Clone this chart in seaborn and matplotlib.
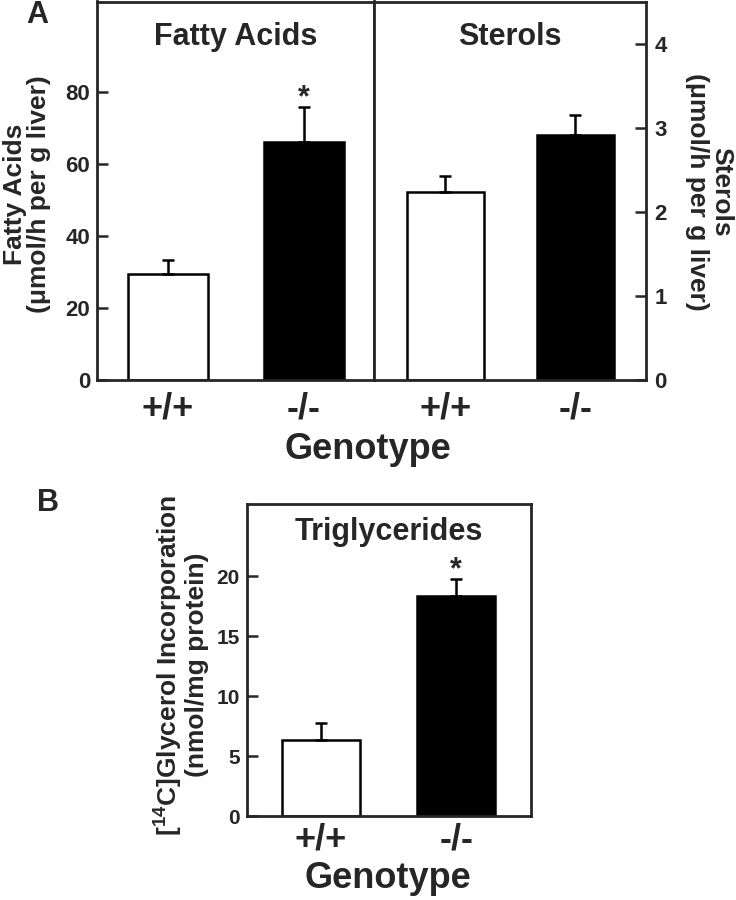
import matplotlib
matplotlib.use("Agg")
import matplotlib.pyplot as plt
import seaborn as sns

# Data
genotypes = ["+/+", "-/-"]
fatty_acids = [29.3, 66.0]
fatty_acids_err = [3.9, 9.7]
sterols = [2.24, 2.91]
sterols_err = [0.18, 0.24]
triglycerides = [6.35, 18.3]
triglycerides_err = [1.4, 1.45]
bar_colors = ["white", "black"]

sns.set_style("ticks")
plt.rcParams["font.family"] = ["Liberation Sans", "DejaVu Sans"]
plt.rcParams["font.weight"] = "bold"
plt.rcParams["mathtext.fontset"] = "custom"
plt.rcParams["mathtext.rm"] = "Liberation Sans:bold"
plt.rcParams["mathtext.bf"] = "Liberation Sans:bold"

fig = plt.figure(figsize=(7.36, 9), dpi=100)
W, H = 736, 900


def add_ax(x0, y0, x1, y1):
    # pixel box (top-left origin) -> figure axes
    return fig.add_axes([x0 / W, 1 - y1 / H, (x1 - x0) / W, (y1 - y0) / H])


def draw_bars(ax, vals, errs, width, pad=10):
    sns.barplot(x=genotypes, y=vals, hue=genotypes, palette=bar_colors,
                edgecolor="black", linewidth=1.8, width=width,
                errorbar=None, legend=False, ax=ax)
    ax.errorbar([0, 1], vals, yerr=[[0, 0], errs], fmt="none",
                ecolor="black", elinewidth=1.8, capsize=4, capthick=1.8,
                zorder=1)
    for s in ax.spines.values():
        s.set_linewidth(2)
        s.set_visible(True)
    ax.tick_params(axis="x", length=0, pad=pad, labelsize=26)
    for lab in ax.get_xticklabels():
        lab.set_fontweight("bold")
    ax.set_xlabel("")
    ax.set_ylabel("")


# ---------------- Panel A: fatty acids ----------------
ax1 = add_ax(97, 1.5, 374, 380)
draw_bars(ax1, fatty_acids, fatty_acids_err, 0.59, pad=8)
ax1.set_xlim(-0.522, 1.515)
ax1.set_ylim(0, 105)
ax1.set_yticks([0, 20, 40, 60, 80])
ax1.tick_params(axis="y", direction="in", length=8, width=1.8,
                labelsize=16, pad=5)
ax1.set_title("Fatty Acids", fontsize=22, fontweight="bold", y=0.862)
ax1.text(1, fatty_acids[1] + fatty_acids_err[1] + 0.3, "*", ha="center",
         va="baseline", fontsize=22, fontweight="bold")

# ---------------- Panel A: sterols ----------------
ax2 = add_ax(374, 1.5, 646, 380)
draw_bars(ax2, sterols, sterols_err, 0.596, pad=8)
ax2.set_xlim(-0.548, 1.544)
ax2.set_ylim(0, 4.5)
ax2.set_yticks([0, 1, 2, 3, 4])
ax2.yaxis.tick_right()
ax2.tick_params(axis="y", direction="in", length=8, width=1.8,
                labelsize=16, pad=6, left=False, right=True)
ax2.set_title("Sterols", fontsize=22, fontweight="bold", y=0.862)

fig.text(27 / W, 1 - 194 / H, "Fatty Acids\n(\u03bcmol/h per g liver)",
         rotation=90, ha="center", va="center", fontsize=19,
         fontweight="bold", linespacing=1.05)
fig.text(709 / W, 1 - 192 / H, "Sterols\n(\u03bcmol/h per g liver)",
         rotation=270, ha="center", va="center", fontsize=19,
         fontweight="bold", linespacing=1.05)
fig.text(368 / W, 1 - 449 / H, "Genotype", ha="center", va="center",
         fontsize=26, fontweight="bold")
fig.text(37 / W, 1 - 15 / H, "A", ha="center", va="center",
         fontsize=22, fontweight="bold")

# ---------------- Panel B: triglycerides ----------------
ax3 = add_ax(246.7, 504, 530.7, 816)
draw_bars(ax3, triglycerides, triglycerides_err, 0.575, pad=5)
ax3.set_xlim(-0.545, 1.55)
ax3.set_ylim(0, 26)
ax3.set_yticks([0, 5, 10, 15, 20])
ax3.tick_params(axis="y", direction="in", length=8, width=1.8,
                labelsize=15, pad=5)
ax3.set_title("Triglycerides", fontsize=22, fontweight="bold", y=0.857)
ax3.text(1, triglycerides[1] + triglycerides_err[1] + 0.05, "*", ha="center",
         va="baseline", fontsize=22, fontweight="bold")

fig.text(180 / W, 1 - 665 / H,
         "[$^{14}$C]Glycerol Incorporation\n(nmol/mg protein)",
         rotation=90, ha="center", va="center", fontsize=19,
         fontweight="bold", linespacing=1.1)
fig.text(388 / W, 1 - 879 / H, "Genotype", ha="center", va="center",
         fontsize=26, fontweight="bold")
fig.text(48 / W, 1 - 503 / H, "B", ha="center", va="center",
         fontsize=22, fontweight="bold")

fig.savefig("out.png", dpi=100)
